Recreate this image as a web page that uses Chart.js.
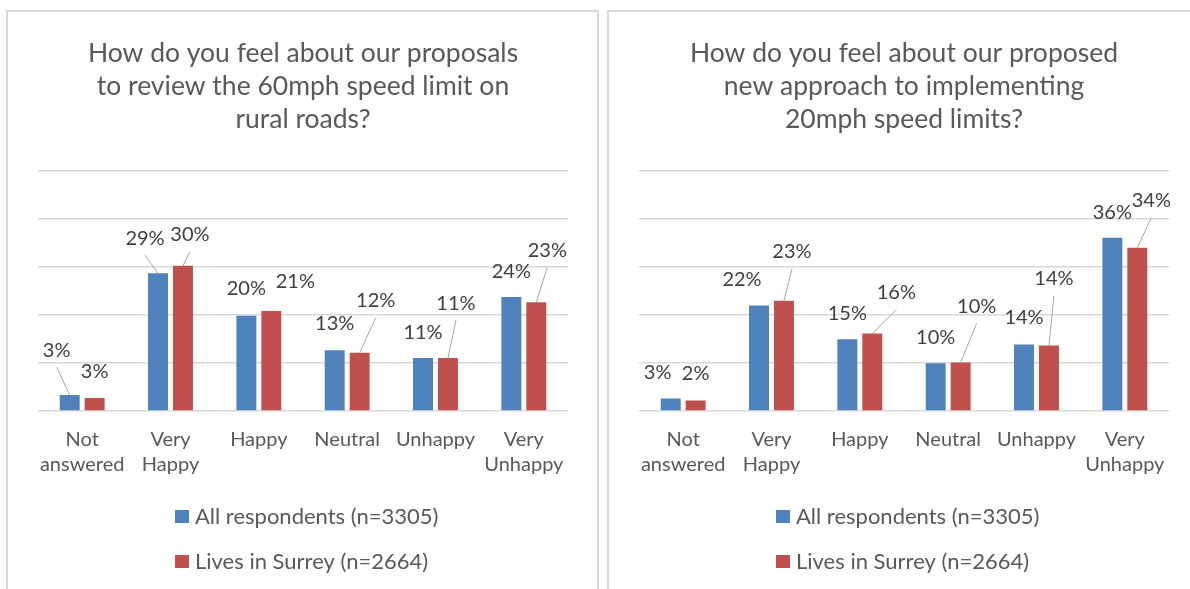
<!DOCTYPE html>
<html>
<head>
<meta charset="utf-8">
<title>Speed limit survey</title>
<script src="https://cdn.jsdelivr.net/npm/chart.js"></script>
<style>
  body { margin: 0; background: #fff; overflow: hidden; }
  .panel { position: absolute; top: 10px; width: 589px; height: 600px; border: 2px solid #d9d9d9; background: #fff; }
  #p1 { left: 6px; }
  #p2 { left: 607px; }
  canvas { display: block; }
</style>
</head>
<body>
<div class="panel" id="p1"><canvas id="c1" width="589" height="577"></canvas></div>
<div class="panel" id="p2"><canvas id="c2" width="589" height="577"></canvas></div>

<script>
  // data (percent of respondents)
  const categories = [['Not', 'answered'], ['Very', 'Happy'], 'Happy', 'Neutral', 'Unhappy', ['Very', 'Unhappy']];
  const seriesNames = ['All respondents (n=3305)', 'Lives in Surrey (n=2664)'];
  const ruralAll = [3.3, 28.6, 19.8, 12.6, 11.0, 23.7];
  const ruralSurrey = [2.7, 30.2, 20.8, 12.1, 11.0, 22.6];
  const twentyAll = [2.6, 21.9, 14.9, 9.9, 13.8, 36.0];
  const twentySurrey = [2.2, 22.9, 16.1, 10.1, 13.6, 33.9];
  const yTicks = [0, 10, 20, 30, 40, 50];

  const ruralTitle = ['How do you feel about our proposals', 'to review the 60mph speed limit on', 'rural roads?'];
  const twentyTitle = ['How do you feel about our proposed', 'new approach to implementing', '20mph speed limits?'];

  const colors = ['#4f81bd', '#c0504d'];
  const FONT = 'Lato';

  // where each value label sits relative to the top of its bar: [dx, dy, leader line?]
  const ruralLabelPos = [
    [[-13, -45, 1], [-13, -35, 1], [0, -27, 0], [0, -27, 0], [0, -26, 0], [0, -25, 0]],
    [[0, -26, 0], [7, -31, 1], [24, -29, 0], [16, -52, 1], [8, -55, 1], [11, -52, 1]]
  ];
  const twentyLabelPos = [
    [[-13, -26, 0], [-17, -26, 0], [0, -26, 0], [0, -26, 0], [0, -27, 0], [0, -25, 0]],
    [[0, -27, 0], [8, -49, 1], [24, -41, 1], [16, -56, 1], [5, -67, 1], [14, -47, 1]]
  ];

  const barLabels = {
    id: 'barLabels',
    afterDatasetsDraw(chart, args, opts) {
      const ctx = chart.ctx;
      ctx.save();
      ctx.font = '20px ' + FONT;
      ctx.textAlign = 'center';
      ctx.textBaseline = 'middle';
      chart.data.datasets.forEach((ds, di) => {
        chart.getDatasetMeta(di).data.forEach((bar, i) => {
          const [dx, dy, lead] = opts.pos[di][i];
          const x = bar.x + dx, y = bar.y + dy;
          if (lead) {
            ctx.strokeStyle = '#a6a6a6';
            ctx.lineWidth = 1;
            ctx.beginPath();
            ctx.moveTo(x, y + 17);
            ctx.lineTo(bar.x, bar.y);
            ctx.stroke();
          }
          ctx.fillStyle = '#404040';
          ctx.fillText(Math.round(ds.data[i]) + '%', x, y);
        });
      });
      ctx.restore();
    }
  };

  // legend stacked in two rows under the axis
  const stackedLegend = {
    id: 'stackedLegend',
    afterDraw(chart) {
      const ctx = chart.ctx;
      ctx.save();
      ctx.font = '22px ' + FONT;
      ctx.textBaseline = 'middle';
      ctx.textAlign = 'left';
      chart.data.datasets.forEach((ds, di) => {
        const y = 505 + di * 45;
        ctx.fillStyle = ds.backgroundColor;
        ctx.fillRect(167, y - 7, 14, 13);
        ctx.fillStyle = '#595959';
        ctx.fillText(ds.label, 187, y);
      });
      ctx.restore();
    }
  };

  function makeChart(id, title, all, surrey, labelPos) {
    new Chart(document.getElementById(id), {
      type: 'bar',
      data: {
        labels: categories,
        datasets: [
          { label: seriesNames[0], data: all, backgroundColor: colors[0] },
          { label: seriesNames[1], data: surrey, backgroundColor: colors[1] }
        ]
      },
      options: {
        responsive: false,
        animation: false,
        layout: { padding: { left: 30, right: 29, top: 0, bottom: 96 } },
        datasets: { bar: { categoryPercentage: 0.565, barPercentage: 0.8 } },
        scales: {
          x: {
            grid: { display: false, drawTicks: false },
            border: { display: false },
            ticks: {
              color: '#595959', padding: 16, maxRotation: 0, minRotation: 0, autoSkip: false,
              font: { family: FONT, size: 20, lineHeight: 1.25 }
            }
          },
          y: {
            min: 0,
            max: 50,
            afterBuildTicks: (axis) => { axis.ticks = yTicks.map(v => ({ value: v })); },
            grid: { color: '#d9d9d9', lineWidth: 1.5, drawTicks: false },
            border: { display: false },
            ticks: { display: false }
          }
        },
        plugins: {
          legend: { display: false },
          tooltip: { enabled: false },
          title: {
            display: true,
            text: title,
            color: '#595959',
            font: { family: FONT, size: 26.5, weight: 'normal', lineHeight: 1.25 },
            padding: { top: 24.5, bottom: 34.5 }
          },
          barLabels: { pos: labelPos }
        }
      },
      plugins: [barLabels, stackedLegend]
    });
  }

  makeChart('c1', ruralTitle, ruralAll, ruralSurrey, ruralLabelPos);
  makeChart('c2', twentyTitle, twentyAll, twentySurrey, twentyLabelPos);
</script>
</body>
</html>
